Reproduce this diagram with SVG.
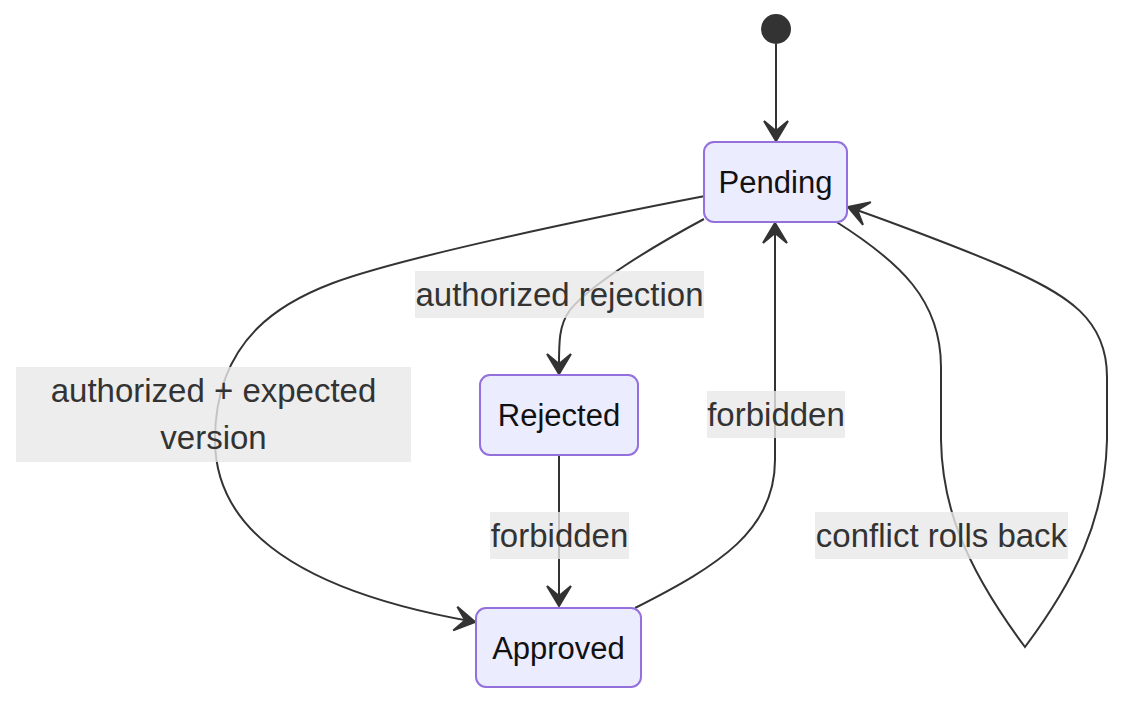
<svg xmlns="http://www.w3.org/2000/svg" width="1140" height="712" viewBox="0 0 1140 712">
<style>
.node rect{fill:#ECECFF;stroke:#9370DB;stroke-width:2}
.node text{font-family:"Liberation Sans",Arial,sans-serif;font-size:31px;fill:#111;text-anchor:middle;dominant-baseline:central}
.edge{fill:none;stroke:#333;stroke-width:2}
.lbl rect{fill:#e8e8e8;opacity:0.8}
.lbl text{font-family:"Liberation Sans",Arial,sans-serif;font-size:33px;fill:#333;text-anchor:middle;dominant-baseline:central}
</style>
<defs>
<marker id="barb" viewBox="0 0 20 14" markerUnits="userSpaceOnUse" markerWidth="40" markerHeight="28" refX="19" refY="7" orient="auto">
<path d="M19,7 L9,13 L14,7 L9,1 Z" fill="#333" stroke="#333" stroke-width="1"/>
</marker>
</defs>
<rect width="1140" height="712" fill="#fff"/>
<g id="connectors">
<path class="edge" d="M776,44 L776,141" marker-end="url(#barb)"/>
<path class="edge" d="M704,219 C650,248 590,285 570,310 C558,326 559,345 559,374" marker-end="url(#barb)"/>
<path class="edge" d="M705,196 C580,220 400,258 333,283 C288,300 215,335 215,440 C215,540 320,595 475,622" marker-end="url(#barb)"/>
<path class="edge" d="M559,455 L559,606" marker-end="url(#barb)"/>
<path class="edge" d="M635,608 C720,565 775,530 775,460 L775,223" marker-end="url(#barb)"/>
<path class="edge" d="M835,221 C900,262 941,300 941,367 L941,440 C942,500 960,560 1025,647 C1075,580 1105,520 1107,440 L1107,377 C1107,320 1070,295 1000,265 C950,244 880,218 848,207" marker-end="url(#barb)"/>
</g>
<g id="start"><circle cx="776" cy="29" r="15" fill="#333"/></g>
<g id="Pending" class="node"><rect x="704" y="142" width="143" height="80" rx="10"/><text x="775.5" y="182">Pending</text></g>
<g id="Rejected" class="node"><rect x="480" y="375" width="158" height="80" rx="10"/><text x="559" y="415">Rejected</text></g>
<g id="Approved" class="node"><rect x="476" y="608" width="165" height="79" rx="10"/><text x="558.5" y="648">Approved</text></g>
<g id="labels">
<g class="lbl"><rect x="415" y="271" width="289" height="47"/><text x="559.5" y="294.5">authorized rejection</text></g>
<g class="lbl"><rect x="16" y="367" width="395" height="95"/><text x="213.5" y="390.5">authorized + expected</text><text x="213.5" y="437.5">version</text></g>
<g class="lbl"><rect x="490" y="512" width="139" height="47"/><text x="559.5" y="535.5">forbidden</text></g>
<g class="lbl"><rect x="707" y="391" width="138" height="47"/><text x="776" y="414.5">forbidden</text></g>
<g class="lbl"><rect x="815" y="512" width="253" height="47"/><text x="941.5" y="535.5">conflict rolls back</text></g>
</g>
</svg>
